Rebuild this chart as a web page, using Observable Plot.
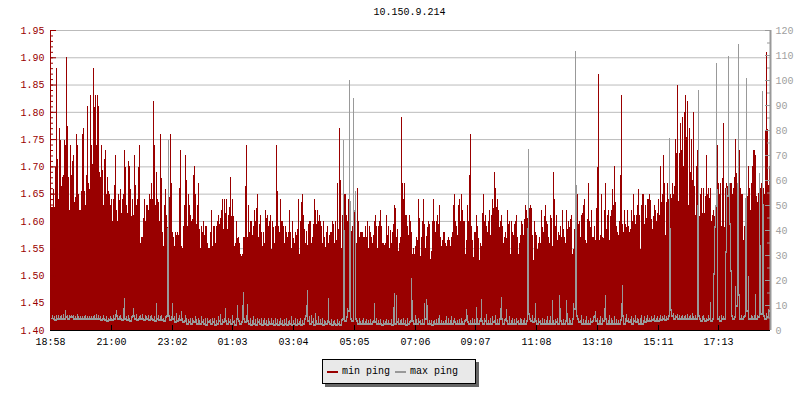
<!DOCTYPE html>
<html>
<head>
<meta charset="utf-8">
<script src="https://cdn.jsdelivr.net/npm/d3@7"></script>
<script src="https://cdn.jsdelivr.net/npm/@observablehq/plot@0.6"></script>
<style>
html,body{margin:0;padding:0;background:#fff;width:800px;height:400px;overflow:hidden}
#wrap{position:relative;width:800px;height:400px;font-family:"Liberation Mono",monospace;font-size:10px}
#title{position:absolute;left:0;top:7px;width:819px;text-align:center;color:#000;line-height:12px}
#legend{position:absolute;left:322px;top:359px;width:152px;height:23px;border:1px solid #000;background:#e9e9e9;box-shadow:3px 3px 0 #666;line-height:23px;white-space:nowrap}
#legend span.s{position:absolute;top:11px;width:11px;height:2px}
#legend span.t{position:absolute;top:0;color:#000}
svg{display:block}
</style>
</head>
<body>
<div id="wrap"><div id="title"></div><div id="legend"></div></div>
<script>
const chartTitle = "10.150.9.214";
const seriesNames = ["min ping", "max ping"];
const seriesColors = ["#990000", "#999999"];
const xTickSamples = [0,61,122,182,243,304,365,425,486,547,608,668];
const xTickLabels = ["18:58","21:00","23:02","01:03","03:04","05:05","07:06","09:07","11:08","13:10","15:11","17:13"];
const leftMajor = [1.40,1.45,1.50,1.55,1.60,1.65,1.70,1.75,1.80,1.85,1.90,1.95];
const rightMajor = [0,10,20,30,40,50,60,70,80,90,100,110,120];

// min ping, left axis, thousandths of a unit, one value per sample
const minPing = [
1626,1626,1626,1659,1626,1699,1880,1714,1641,1770,1749,1664,1681,1684,1749,1739,1901,1774,1681,1620,
1739,1684,1710,1721,1635,1644,1759,1739,1649,1620,1620,1655,1759,1770,1655,1629,1684,1810,1669,1659,
1831,1739,1704,1880,1808,1831,1739,1831,1810,1690,1681,1739,1693,1629,1714,1730,1649,1681,1655,1649,
1629,1640,1600,1640,1666,1721,1620,1600,1649,1638,1659,1615,1640,1649,1730,1699,1629,1614,1710,1700,
1659,1609,1640,1611,1721,1666,1629,1640,1698,1739,1560,1571,1571,1606,1640,1600,1629,1629,1620,1649,
1640,1669,1640,1820,1739,1629,1690,1640,1635,1600,1759,1678,1580,1554,1629,1659,1611,1589,1589,1644,
1759,1669,1580,1571,1554,1580,1574,1580,1574,1660,1730,1554,1550,1591,1629,1721,1675,1591,1649,1629,
1611,1600,1603,1684,1701,1649,1594,1629,1669,1585,1550,1591,1580,1600,1574,1591,1591,1559,1550,1550,
1580,1620,1554,1591,1591,1559,1591,1600,1611,1594,1605,1620,1640,1585,1640,1615,1640,1585,1611,1625,
1680,1609,1640,1609,1554,1559,1600,1569,1571,1559,1539,1535,1539,1571,1571,1664,1739,1571,1629,1580,
1600,1600,1574,1591,1620,1600,1623,1649,1571,1594,1611,1580,1554,1580,1559,1620,1605,1611,1591,1600,
1611,1549,1600,1588,1559,1591,1739,1655,1591,1580,1640,1600,1600,1591,1559,1591,1580,1571,1580,1620,
1580,1550,1600,1569,1559,
1579,1575,1586,1641,1540,1600,1635,1650,1611,1586,1560,1581,1555,1595,1600,1600,1560,1571,1595,1641,
1620,1595,1620,1600,1611,1600,1590,1560,1600,1571,1553,1579,1591,1560,1575,1579,1579,1600,1595,1560,
1600,1565,1669,1586,1770,1675,1551,1611,1584,1650,1650,1611,1600,1641,1600,1637,1581,1591,1591,1620,
1560,1560,1660,1600,1571,1579,1579,1579,1571,1571,1591,1571,1600,1551,1591,1579,1571,1560,1575,1600,
1611,1591,1551,1590,1600,1620,1591,1560,1560,1555,1560,1611,1575,1591,1551,1584,1560,1579,1595,1630,
1624,1571,1586,1545,1560,1571,1790,1669,1641,1669,1611,1611,1591,1575,1611,1600,1579,1540,1551,1540,
1554,1570,1565,1640,1606,1535,1570,1600,1640,1594,1550,1572,1589,1600,1594,1530,1545,1600,1640,1600,
1580,1600,1611,1594,1629,1571,1554,1565,1579,1579,1559,1554,1565,1571,1565,1554,1571,1579,1629,1649,
1600,1590,1574,1629,1640,1600,1649,1620,1600,1600,1539,1565,1629,1600,1684,1759,1590,1565,1534,1579,
1579,1611,1590,1568,1528,1559,1554,1614,1649,1600,1611,1590,1579,1600,1620,1574,1611,1640,1623,1689,
1660,1625,1640,1620,1589,1600,1611,1590,1559,1571,1579,1568,1620,1594,1600,1539,1600,1579,1574,1594,
1600,1611,1571,1539,1559,1574,1600,1594,1574,1603,1629,1620,1605,1586,1623,1629,1623,1574,1528,1600,
1580,1574,1548,1560,1571,1560,1620,1589,1580,1609,1629,1600,1595,1571,1560,1611,1606,1554,1689,1640,
1590,1611,1565,1580,1574,1590,1571,1620,1585,1571,1560,1620,1585,1600,1589,1604,1611,1539,1549,1585,
1565,1570,1649,1594,1600,1571,1611,1615,1629,1640,1565,1560,1603,1669,1600,1589,1620,1571,1571,1590,
1565,1623,1699,1869,1565,1574,1649,1571,1568,1620,1669,1585,1611,1620,1565,1609,1620,1659,1629,1700,
1634,1590,1580,1574,1600,1684,1831,1594,1580,1620,1594,1589,1620,1590,1580,1585,1620,1600,1649,1611,
1594,1611,1629,1659,1611,1549,1629,1649,1649,1594,1629,1606,1640,1640,1649,1638,1603,1585,1609,1629,
1620,1600,1615,1641,1611,1701,1635,1650,1721,1670,1575,1635,1670,1641,1642,1650,1642,1669,1650,1664,
1751,1724,1850,1636,1724,1780,1730,1791,1700,1800,1831,1754,1820,1630,1771,1690,1751,1675,1800,1664,
1611,1701,1730,1633,1609,1650,1661,1614,1661,1614,1646,1721,1650,1661,1642,1661,1600,1611,1620,1609,
1630,1663,1740,1670,1650,1670,1591,1679,1780,1589,1661,1670,1664,1670,1620,1670,1670,1650,1661,1681,
1751,1688,1670,1675,1730,1661,1650,1650,1565,1591,1609,1650,1646,1701,1661,1620,1670,1701,1730,1730,
1721,1645,1635,1652,1556,1661,1670,1633,1661,1650,1767,1909,1768,1665,1701
].map(v => v / 1000);

// max ping, right axis, one value per sample
const maxPing = [
5.5,5,6,5,5.5,4.5,6,5,6,5,5.5,6,5,6.5,5,8,5.5,6,5,6,
5.5,6,5.5,6,5,5.5,5,6.5,5.5,5,5.5,5,5.5,5,5.5,6,5,5.5,5,5.5,
5,5.5,5,5.5,6,5,6.5,5,6,5,5.5,4.5,5,6,5,4.5,5.5,4,5,4.5,
5.5,5,4.5,6,5,6.5,8,6,5,5.5,6,5,4.5,9,12.7,5,5.5,4.5,6,5,
4,5.5,6,8.7,6,5,6.5,4.5,5,5.5,6,5,6.5,5,4.5,6,5.5,5,6,4.5,
5.5,6,5,4.5,5.5,4,11,5,6,4.5,5.5,6,4.5,5,4,5.5,6,40.7,76,6,
4.5,5.5,10.7,5,5.5,3.5,7,4,5,6,4.5,7.5,5,3.5,4,6,5,3,4.5,3.5,
5,3,5,4,3.5,5.5,4.5,3,5,4,3,5.5,3.5,4.5,3,5,2.5,5,3.5,4,
4.5,3,5,3.5,5,2.5,4,3,5.5,4,6.5,3,4.5,3.5,5,8.7,4,3,5,3.5,
4.5,3,6,3.5,4,2.5,5,10,5,4,3,3.5,10,15.3,5,3.5,6,10.4,4,3,
5,2.5,4,5.5,3,4.5,2.5,5,3.5,4.5,3,5,2.5,4,5,3,4,2.5,5,3.5,
3,5,3,4,2.5,5,3,4.5,2.5,3.5,5,3,4,2.5,4.5,3,5,2.5,3.5,4,
3,5.5,2.5,4,3,5,2.5,4.5,3,3.5,5,2.5,4,3,5,6,10,16,4,5.5,
3,6,3.5,5,2.5,7,4,3,5.5,3,4.5,3,5,2.5,4,3.5,3,4,12.7,3.5,
3,4.5,2.5,3.5,4,3,2.5,4.5,3,3.5,2.5,4.5,5,76,40,4,5.5,9,8,100,
51.7,5,4,93,48,55.6,5,4,3,5,3.5,3,4,5,3,3.5,4.5,3,4,3,
4.5,3,3.5,4,11,3.5,5,3,4,3,4.5,3,2.5,4,3,3.5,4.5,3,4,3,
3,4.5,2.5,9.3,15,3,14,3.5,5,3,4,4.5,3,5,3,4,2.5,5,3,3.5,
4,20.7,12,4,3,6,4.5,3,5,3.5,4,3,4.5,3,10.7,5,12.4,10,3,4,
3,4,2.5,3.5,4,3,4.5,3,5,6,3,4,3,3.5,3,4,5.5,3,5,3,
4,5.5,3,4,5,3.5,3,4,3,4.5,3,5,3.5,3,4,4.5,8.3,6,3.5,3,
4,3,5,3,4.5,3,9.3,5,3,4,5,12.4,4,3,5,4,6.5,3,4,3,
5,3,5.5,3.5,4,6,3,4.5,3,5,8.7,13.3,5,3,4.5,5,8.3,4,3,5.5,
3,4,5,3,4.5,3,5,3.5,4,3,5,4.5,3,4,5,3,4,41,72.4,6.8,
5,4,6,3.5,5,10.7,4,3,5,3.5,4,3,5,3,4.5,3,4,5.5,3,4,
5.5,3,12,4,3,4.5,3.5,5,3,14,8.7,4,3,4.5,3,4,12,7,3,5,
4,3,5,11,8.7,111.6,58,6,5,3.5,4,6,3,4.5,3,4,5.5,3,4,3,
5,3.5,4,5.5,6,7.6,4,5,3,4,5.5,3,5,4,9,14,5,3,4,6,
3,5,4,3,5.5,3,4.5,3,4,3,4.5,11,18,6,3,5,6.5,4,5,3.5,
4.5,5.5,3,5,4,6,3.5,5,4.5,3,5,6,3,4,5.5,3.5,5,6,4,5,
4,5.5,4.5,5,6,4,5,5.5,4,5,6,4.5,5.5,5,6,4.5,5.5,5,6,76.7,
40.7,8.3,6,7,5,6,5.5,6.5,5,6,5,5.5,6,5,5.5,6,5,6.5,5,5.5,
6,5,7,5.5,5,6,5,50,96,6,5,4,5.5,6,5,4,5,4.5,6,5,
11.3,4,5,23,41.6,50,106.7,56.6,5,5.5,4,6,5,5.5,5,31.7,56.8,54,109.6,58.7,
43,24,6,5,5.5,17.6,10,58.7,114.4,14.4,5,6,5,5.5,6,53,100.7,8,21.6,5,
5,6,5.5,5,6,14.4,5,6,5.5,63,34,7,95.7,50.4,6,5,7,5.5,8.3,8
];

const yMin = 1.40, yMax = 1.95, rightMax = 120;
const toLeft = v => yMin + v / rightMax * (yMax - yMin);
const pxY = (yMax - yMin) / 300;
const leftMinor = d3.range(0, 56).map(i => yMin + i * 0.01);
const rightMinor = d3.range(0, 25).map(i => i * 5);

const rows = minPing.map((v, i) => ({i, v}));
const grayRows = maxPing.map((v, i) => {
  const lo = Math.min(v, i ? maxPing[i - 1] : v, i < maxPing.length - 1 ? maxPing[i + 1] : v);
  return {i, top: toLeft(v), bottom: toLeft(lo) - 2 * pxY};
});

const crisp = {shapeRendering: "crispEdges"};
const chart = Plot.plot({
  width: 800, height: 400,
  marginLeft: 50, marginRight: 30, marginTop: 30, marginBottom: 70,
  style: {fontFamily: '"Liberation Mono", monospace', fontSize: "10px", background: "#fff"},
  x: {domain: [0, 720], axis: null},
  y: {domain: [yMin, yMax], axis: null},
  marks: [
    Plot.ruleY(leftMajor, {stroke: "#bbbbbb", strokeWidth: 1}),
    Plot.rectY(rows, {x1: "i", x2: d => d.i + 1, y1: yMin, y2: "v", fill: seriesColors[0], ...crisp}),
    Plot.rectY(grayRows, {x1: "i", x2: d => d.i + 1, y1: "bottom", y2: "top", fill: seriesColors[1], ...crisp}),
    Plot.ruleY(leftMinor, {x1: 0, x2: 3, stroke: seriesColors[0]}),
    Plot.ruleY(leftMajor, {x1: 0, x2: 6, stroke: seriesColors[0]}),
    Plot.ruleY(rightMinor.map(toLeft), {x1: 717, x2: 720, stroke: seriesColors[1]}),
    Plot.ruleY(rightMajor.map(toLeft), {x1: 715, x2: 720, stroke: seriesColors[1]}),
    Plot.ruleX(xTickSamples, {y1: yMin, y2: yMin + 5 * pxY, stroke: "#000"}),
    Plot.ruleX([0], {stroke: seriesColors[0]}),
    Plot.ruleX([720], {stroke: seriesColors[1], strokeWidth: 2}),
    Plot.ruleY([yMin], {stroke: "#000"}),
    Plot.axisY(leftMajor, {anchor: "left", tickSize: 0, tickPadding: 6, label: null, color: seriesColors[0], tickFormat: d3.format(".2f"), fontSize: 10}),
    Plot.axisY(rightMajor.map(toLeft), {anchor: "right", tickSize: 0, tickPadding: 5, label: null, color: "#a0a0a0", tickFormat: d => String(Math.round((d - yMin) / (yMax - yMin) * rightMax)), fontSize: 10}),
    Plot.axisX(xTickSamples, {anchor: "bottom", tickSize: 0, tickPadding: 7, label: null, color: "#000", tickFormat: d => xTickLabels[xTickSamples.indexOf(d)], fontSize: 10})
  ]
});
const wrap = document.getElementById("wrap");
wrap.insertBefore(chart, wrap.firstChild);
document.getElementById("title").textContent = chartTitle;
const legend = document.getElementById("legend");
[[4, 19], [72, 87]].forEach(([sx, tx], k) => {
  const s = document.createElement("span");
  s.className = "s"; s.style.left = sx + "px"; s.style.background = seriesColors[k];
  const t = document.createElement("span");
  t.className = "t"; t.style.left = tx + "px"; t.textContent = seriesNames[k];
  legend.append(s, t);
});
</script>
</body>
</html>
